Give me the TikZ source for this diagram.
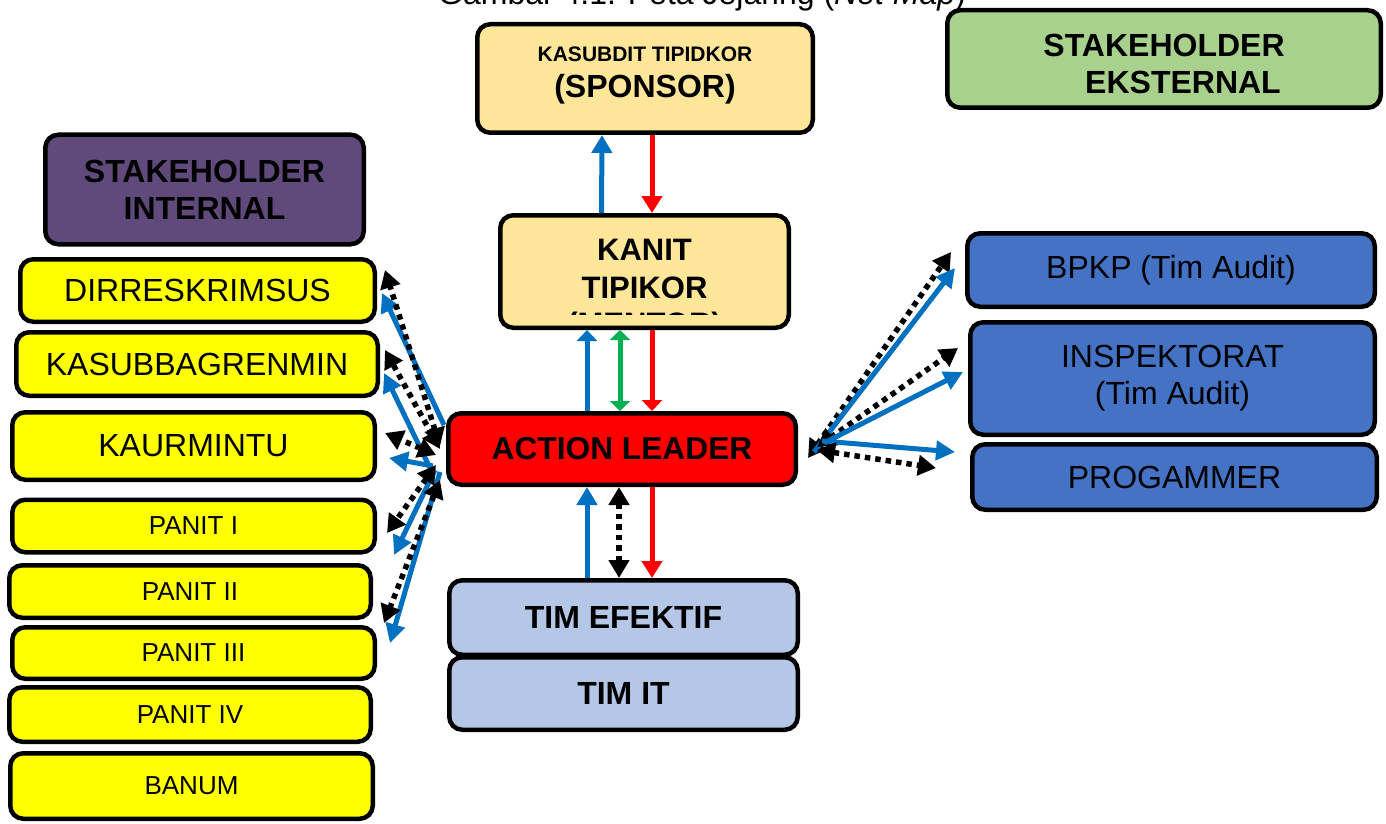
\documentclass[tikz,border=0pt]{standalone}
\usepackage{fontspec}
\setmainfont{Liberation Sans}
\usetikzlibrary{arrows.meta,calc}
\definecolor{cblue}{HTML}{0070C0}
\definecolor{cred}{HTML}{FF0000}
\definecolor{cgreen}{HTML}{00B050}
\definecolor{cgold}{HTML}{FFE699}
\definecolor{cpurple}{HTML}{604A7B}
\definecolor{cgreenbox}{HTML}{A9D18E}
\definecolor{cyellow}{HTML}{FFFF00}
\definecolor{cboxblue}{HTML}{4472C4}
\definecolor{ctim}{HTML}{B4C7E7}
\newcommand\fsz[2]{\fontsize{#1}{#2}\selectfont}
\tikzset{
  box/.style={draw=black, line width=4.5pt, rounded corners=13pt, inner sep=0pt, align=center, text=black},
  ylw/.style={box, fill=cyellow, font=\fsz{32}{37}},
  ylws/.style={box, fill=cyellow, font=\fsz{26}{30}},
  rbl/.style={box, fill=cboxblue, font=\fsz{32}{37}},
  bluearr/.style={draw=cblue, line width=5pt, -{Triangle[length=18pt,width=20pt]}},
  redarr/.style={draw=cred, line width=5pt, -{Triangle[length=17pt,width=20pt]}},
  bluediag/.style={draw=cblue, line width=5pt, -{Triangle[length=19pt,width=19pt]}},
  dotarr/.style={draw=black, line width=5.5pt, dash pattern=on 5.5pt off 5pt, {Triangle[length=18pt,width=20pt]}-{Triangle[length=18pt,width=20pt]}},
  greenarr/.style={draw=cgreen, line width=5pt, {Triangle[length=10pt,width=20pt]}-{Triangle[length=10pt,width=20pt]}}
}
\begin{document}
\begin{tikzpicture}[x=1pt,y=-1pt]
\useasboundingbox (0,0) rectangle (1386,824);
\fill[white] (0,0) rectangle (1386,824);
\begin{scope}
\clip (0,0) rectangle (1386,824);
\node[anchor=base, font=\fsz{32}{36}, inner sep=0pt] (caption) at (702,5) {Gambar 4.1. Peta Jejaring (\textit{Net Map})};
\end{scope}

% top boxes
\node[box, fill=cgold, minimum width=335.5pt, minimum height=108.5pt] (sponsor) at (645,78.5) {};
\node[font=\fsz{21}{25}\bfseries, inner sep=0pt] (sp1) at (645,54.5) {KASUBDIT TIPIDKOR};
\node[font=\fsz{32}{36}\bfseries, inner sep=0pt, anchor=base] (sp2) at (645,97.3) {(SPONSOR)};

\node[box, fill=cgreenbox, minimum width=433.5pt, minimum height=97.5pt] (ekst) at (1164,59) {};
\node[font=\fsz{32}{37}\bfseries, inner sep=0pt, align=center] (eksttxt) at (1164,64) {STAKEHOLDER\\\hspace*{38pt}EKSTERNAL};

\node[box, fill=cpurple, minimum width=318.5pt, minimum height=109.5pt, font=\fsz{32}{37}\bfseries] (intern) at (204.5,189.5) {STAKEHOLDER\\INTERNAL};

% kanit
\node[box, fill=cgold, minimum width=288.5pt, minimum height=112.5pt] (kanit) at (644.5,271.5) {};
\node[font=\fsz{31}{38.5}\bfseries, inner sep=0pt, align=center] (kanittxt) at (644.5,268.75) {KANIT\\TIPIKOR};
\begin{scope}
\clip (500,214) rectangle (789,314.5);
\node[font=\fsz{31}{36}\bfseries, inner sep=0pt, anchor=base] (mentor) at (644.5,334.2) {(MENTOR)};
\end{scope}

% action leader and teams
\node[box, fill=cred, minimum width=347.5pt, minimum height=71.5pt, font=\fsz{31.7}{37}\bfseries] (action) at (622,449) {ACTION LEADER};
\node[box, fill=ctim, minimum width=348.5pt, minimum height=74.5pt, font=\fsz{32}{37}\bfseries] (timef) at (623.5,617.5) {TIM EFEKTIF};
\node[box, fill=ctim, minimum width=348.5pt, minimum height=72.5pt, font=\fsz{32}{37}\bfseries] (timit) at (623.5,693.5) {TIM IT};

% left boxes
\node[ylw, minimum width=354.5pt, minimum height=62.5pt] (dirr) at (197.5,290.5) {DIRRESKRIMSUS};
\node[ylw, minimum width=361.5pt, minimum height=63.5pt] (kasub) at (197,364) {KASUBBAGRENMIN};
\node[ylw, minimum width=362.5pt, minimum height=67.5pt] (kaur) at (193.5,446) {KAURMINTU};
\node[ylws, minimum width=362.5pt, minimum height=52.5pt] (panit1) at (193.5,526) {PANIT I};
\node[ylws, minimum width=361.5pt, minimum height=52.5pt] (panit2) at (190,591.5) {PANIT II};
\node[ylws, minimum width=362.5pt, minimum height=51.5pt] (panit3) at (193.5,653) {PANIT III};
\node[ylws, minimum width=361.5pt, minimum height=54.5pt] (panit4) at (190,714.5) {PANIT IV};
\node[ylws, minimum width=362.5pt, minimum height=65.5pt] (banum) at (191.5,786) {BANUM};

% right boxes
\node[rbl, minimum width=407.5pt, minimum height=73.5pt] (bpkp) at (1171,270) {BPKP (Tim Audit)};
\node[rbl, minimum width=404.5pt, minimum height=112.5pt] (insp) at (1172.5,378.5) {INSPEKTORAT\\(Tim Audit)};
\node[rbl, minimum width=404.5pt, minimum height=65.5pt] (prog) at (1174.5,477) {PROGAMMER};

% vertical arrows
\draw[bluearr] ([xshift=-43pt]kanit.north) -- ([xshift=-43pt]sponsor.south);
\draw[redarr] ([xshift=7pt]sponsor.south) -- ([xshift=7.5pt]kanit.north);
\draw[bluearr, -{Triangle[length=11pt,width=20pt]}] ([xshift=-35pt]action.north) -- ([xshift=-57.5pt]kanit.south);
\draw[greenarr] ([xshift=-2pt]action.north) -- ([xshift=-24.5pt]kanit.south);
\draw[redarr, -{Triangle[length=11pt,width=20pt]}] ([xshift=7.5pt]kanit.south) -- ([xshift=30pt]action.north);
\draw[bluearr] ([xshift=-36.5pt]timef.north) -- ([xshift=-35pt]action.south);
\draw[dotarr] ([xshift=-4.5pt]timef.north) -- ([xshift=-3pt]action.south);
\draw[redarr] ([xshift=30pt]action.south) -- ([xshift=28.5pt]timef.north);

% left connectors
\draw[bluediag] ($(action.west)+(-2,-24)$) -- ($(dirr.east)+(5,2.5)$);
\draw[bluediag] ($(action.west)+(-16,19)$) -- ($(kasub.east)+(4,9)$);
\draw[bluediag] ($(action.west)+(-13,17)$) -- ($(kaur.east)+(12,12)$);
\draw[bluediag] ($(action.west)+(-11,21)$) -- ($(panit1.east)+(17,29)$);
\draw[bluediag] ($(action.west)+(-6,23)$) -- ($(panit3.east)+(13,-10)$);
\draw[dotarr] ($(action.west)+(-6,-3)$) -- ($(dirr.east)+(8,-20.5)$);
\draw[dotarr] ($(action.west)+(-6,0)$) -- ($(kasub.east)+(5,-14)$);
\draw[dotarr] ($(action.west)+(-10,6)$) -- ($(kaur.east)+(8,-13)$);
\draw[dotarr] ($(action.west)+(-10,16)$) -- ($(panit1.east)+(10,7)$);
\draw[dotarr] ($(action.west)+(-6,31)$) -- ($(panit2.east)+(11,31.5)$);

% right connectors
\draw[dotarr] ($(action.east)+(10,9)$) -- ($(bpkp.west)+(-14,-18)$);
\draw[bluediag] ($(action.east)+(16,3)$) -- ($(bpkp.west)+(-10,-2)$);
\draw[dotarr] ($(action.east)+(19,-2)$) -- ($(insp.west)+(-10,-30.5)$);
\draw[bluediag] ($(action.east)+(26,-6)$) -- ($(insp.west)+(-5,-6.5)$);
\draw[bluediag] ($(action.east)+(24,-8)$) -- ($(prog.west)+(-15,-25)$);
\draw[dotarr] ($(action.east)+(19,1)$) -- ($(prog.west)+(-34,-9)$);
\end{tikzpicture}
\end{document}
